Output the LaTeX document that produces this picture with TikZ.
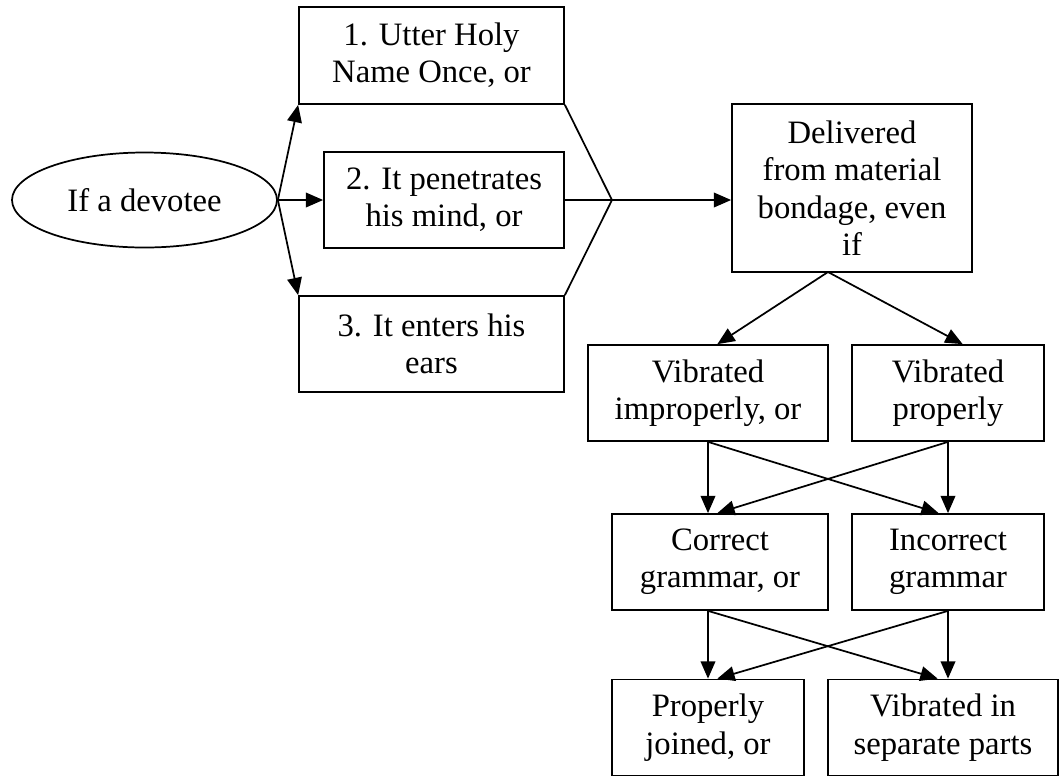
\documentclass[tikz,border=0pt]{standalone}
\usepackage{fontspec}
\setmainfont{Liberation Serif}
\usetikzlibrary{arrows.meta,shapes,positioning}
\newcommand\BoxH{72pt}
\newcommand\WideW{198.75pt}
\newcommand\MidW{180pt}
\newcommand\NarrowW{144pt}
\tikzstyle{box}=[rectangle,draw,line width=1.3pt,align=center,inner sep=0pt,
                 minimum height=\BoxH,font=\fontsize{24.5}{28}\selectfont]
\tikzstyle{oval}=[ellipse,draw,line width=1.3pt,inner sep=0pt,
                  minimum width=\WideW,minimum height=71.25pt,font=\fontsize{24.5}{28}\selectfont]
\tikzstyle{arr}=[-{Triangle[length=13pt,width=11pt]},line width=1.3pt]
\tikzstyle{link}=[line width=1.3pt]

\begin{document}
\begin{tikzpicture}[x=0.75pt,y=-0.75pt]
      \useasboundingbox (0,0) rectangle (1060,776);
      % left part
      \node[oval] (devotee) at (144.5,200) {If a devotee};
      \node[box,minimum width=\WideW,minimum height=72.75pt] (utter) at (431.5,55.5) {1. Utter Holy\\Name Once, or};
      \node[box,minimum width=\MidW] (mind) at (444,200) {2. It penetrates\\his mind, or};
      \node[box,minimum width=\WideW] (ears) at (431.5,344) {3. It enters his\\ears};
      \coordinate (tip) at (612,200);
      \draw[arr] (devotee.east) -- (utter.south west);
      \draw[arr] (devotee.east) -- (mind.west);
      \draw[arr] (devotee.east) -- (ears.north west);
      \draw[link] (utter.south east) -- (tip) -- (ears.north east);
      \draw[link] (mind.east) -- (tip);
      % right part
      \node[box,minimum width=\MidW,minimum height=126pt] (delivered) at (852,188) {Delivered\\from material\\bondage, even\\if};
      \draw[arr] (tip) -- (tip -| delivered.west);
      \node[box,minimum width=\MidW] (improp) at (708,393) {Vibrated\\improperly, or};
      \node[box,minimum width=\NarrowW] (prop) at (948,393) {Vibrated\\properly};
      \node[box,minimum width=162pt] (correct) at (720,562) {Correct\\grammar, or};
      \node[box,minimum width=\NarrowW] (incorrect) at (948,562) {Incorrect\\grammar};
      \node[box,minimum width=\NarrowW] (joined) at (708,727.5) {Properly\\joined, or};
      \node[box,minimum width=172.5pt] (parts) at (943,727.5) {Vibrated in\\separate parts};
      \coordinate (split) at (828,272);
      \draw[arr] (split) -- ([xshift=7pt]improp.north);
      \draw[arr] (split) -- ([xshift=11pt]prop.north);
      \draw[arr] (improp.south) -- (improp.south |- correct.north);
      \draw[arr] (prop.south) -- (prop.south |- incorrect.north);
      \draw[arr] (improp.south) -- ([xshift=-7pt]incorrect.north);
      \draw[arr] (prop.south) -- ([xshift=-2pt]correct.north);
      \draw[arr] (joined.north |- correct.south) -- (joined.north);
      \draw[arr] (incorrect.south) -- (incorrect.south |- parts.north);
      \draw[arr] (joined.north |- correct.south) -- ([xshift=-4pt]parts.north);
      \draw[arr] (incorrect.south) -- ([xshift=7pt]joined.north);
   \end{tikzpicture}
\end{document}
